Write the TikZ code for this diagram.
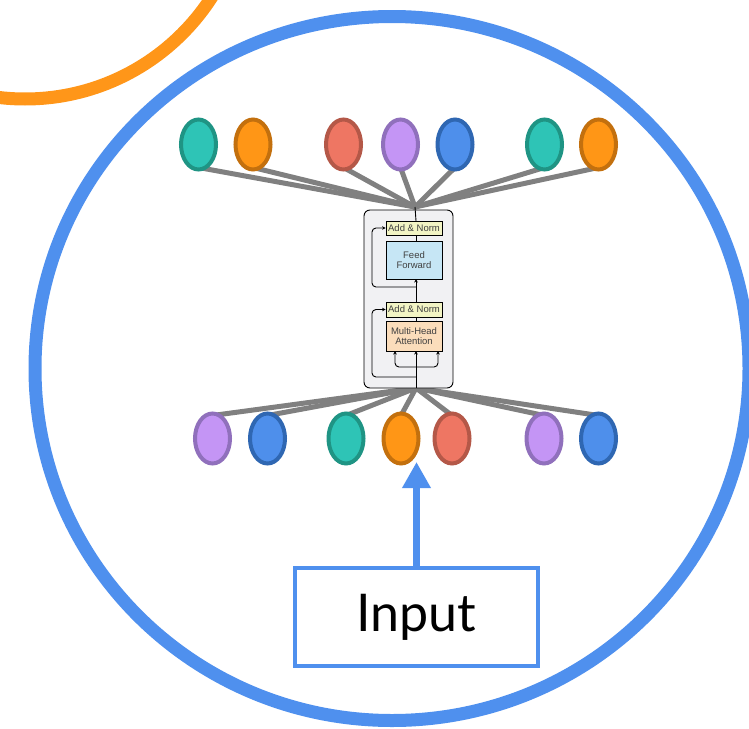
\documentclass[tikz,border=0pt]{standalone}
\usepackage{fontspec}
\setmainfont{Liberation Sans}
\newfontfamily\labelfont{Lato}
\usetikzlibrary{shapes.geometric,arrows.meta,backgrounds}

\definecolor{ringblue}{HTML}{4F90EE}
\definecolor{ringorange}{HTML}{FF9619}
\definecolor{tealF}{HTML}{2EC4B6}\definecolor{tealB}{HTML}{1F9484}
\definecolor{orngF}{HTML}{FF9616}\definecolor{orngB}{HTML}{C3700E}
\definecolor{redF}{HTML}{EE7663}\definecolor{redB}{HTML}{B45848}
\definecolor{purpF}{HTML}{C495F5}\definecolor{purpB}{HTML}{9070BC}
\definecolor{blueF}{HTML}{4E8FEB}\definecolor{blueB}{HTML}{2F67B2}
\definecolor{normY}{HTML}{F2F4C4}
\definecolor{ffB}{HTML}{C6E6F5}
\definecolor{attO}{HTML}{FBDDBB}
\definecolor{blockG}{HTML}{F1F1F3}
\definecolor{wire}{HTML}{808080}

\tikzset{
  tok/.style={ellipse, draw, line width=4pt, minimum width=35pt, minimum height=50pt, inner sep=0pt},
  tTeal/.style={tok, fill=tealF, draw=tealB},
  tOrng/.style={tok, fill=orngF, draw=orngB},
  tRed/.style={tok, fill=redF, draw=redB},
  tPurp/.style={tok, fill=purpF, draw=purpB},
  tBlue/.style={tok, fill=blueF, draw=blueB},
  link/.style={draw=wire, line width=5pt},
  sub/.style={draw=black, line width=0.8pt, minimum width=56pt, inner sep=0pt,
    font=\fontsize{9.5}{10.5}\selectfont, text=black!75, align=center},
  flow/.style={draw=black, line width=0.9pt},
  flowa/.style={flow, -{Stealth[length=3.5pt,width=3.5pt]}},
}

\begin{document}
\begin{tikzpicture}[x=1pt,y=-1pt]
\useasboundingbox (0,0) rectangle (749,728);
\clip (0,0) rectangle (749,728);

% outer rings
\draw[ringorange, line width=13pt] (25,-123) circle[radius=222pt];
\draw[ringblue, line width=13pt] (392,368.5) ellipse[x radius=357pt, y radius=352pt];

% transformer block
\node[draw=black, line width=0.9pt, fill=blockG, rounded corners=6pt,
      minimum width=89pt, minimum height=178pt, inner sep=0pt] (block) at (408.5,299) {};
\node[sub, fill=normY, minimum height=14pt] (an1) at (414,228) {Add \& Norm};
\node[sub, fill=ffB, minimum height=38pt] (ff) at (414,260) {Feed\\Forward};
\node[sub, fill=normY, minimum height=15pt] (an2) at (414,309.5) {Add \& Norm};
\node[sub, fill=attO, minimum height=30pt] (mha) at (414,336) {Multi-Head\\Attention};

\coordinate (topjoin) at (415,207);
\coordinate (botjoin) at (416,388);
\coordinate (mhaL) at (395,351);
\coordinate (mhaR) at (438,351);

% tokens, upper row
\node[tTeal] (u1) at (198.5,144.5) {};
\node[tOrng] (u2) at (253,144.5) {};
\node[tRed]  (u3) at (343.5,144.5) {};
\node[tPurp] (u4) at (400.5,144.5) {};
\node[tBlue] (u5) at (455,144.5) {};
\node[tTeal] (u6) at (544.5,144.5) {};
\node[tOrng] (u7) at (598.5,144.5) {};

% tokens, lower row
\node[tPurp] (l1) at (212.5,438.5) {};
\node[tBlue] (l2) at (267.5,438.5) {};
\node[tTeal] (l3) at (346,438.5) {};
\node[tOrng] (l4) at (401,438.5) {};
\node[tRed]  (l5) at (452,438.5) {};
\node[tPurp] (l6) at (544,438.5) {};
\node[tBlue] (l7) at (598.5,438.5) {};

\begin{scope}[on background layer]
  \foreach \t in {u1,u2,u3,u4,u5,u6,u7}
    \draw[link] ([yshift=4pt]\t.south) -- (topjoin);
  \foreach \t in {l1,l2,l3,l4,l5,l6,l7}
    \draw[link] ([yshift=-4pt]\t.north) -- (botjoin);
\end{scope}

% data path inside the block
\draw[flow] (416,388) -- (416,367);
\draw[flowa] (416,367) -- (416,351);
\draw[flowa, rounded corners=4pt] (416,367) -| (mhaL);
\draw[flowa, rounded corners=4pt] (416,367) -| (mhaR);
\draw[flow] (416,321) -- (416,317);
\draw[flowa] (416,302) -- (416,279);
\draw[flow] (416,241) -- (416,235);
\draw[flow] (416,221) -- (topjoin);
\draw[flowa, rounded corners=4pt] (416,377) -- (372,377) |- (an2.west);
\draw[flowa, rounded corners=4pt] (416,287) -- (372,287) |- (an1.west);

% input box and arrow
\node[draw=ringblue, line width=4pt, minimum width=243pt, minimum height=98pt,
      inner sep=0pt, font=\labelfont\fontsize{52}{60}\selectfont] (input) at (416.5,617) {Input};
\coordinate (tip) at (416.5,462);
\draw[ringblue, line width=7pt, -{Triangle[width=27pt,length=26pt]}] (input.north) -- (tip);
\end{tikzpicture}
\end{document}
